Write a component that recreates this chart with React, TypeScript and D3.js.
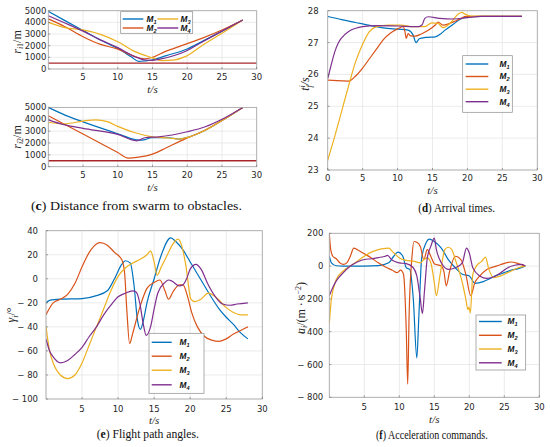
import React from "react";
import * as d3 from "d3";

type P = [number, number];

const SERIES = ["1", "2", "3", "4"];
const COLORS = ["#0072BD", "#D95319", "#EDB120", "#7E2F8E"];
const OBSTACLE_COLOR = "#A8262A";
const safeDistance = [[0, 500], [30, 500]] as P[];

// (c) distance to obstacle 1
const r1M1: P[] = [[0, 4950], [2.4, 4150], [5, 3300], [7.5, 2480], [10, 1760], [12, 1020], [13, 650], [14, 700], [14.9, 770], [17, 1150], [20, 1720], [22.1, 2350], [25, 3250], [28, 4200]];
const r1M2: P[] = [[0, 4300], [2.4, 3630], [5, 2770], [7.5, 2110], [10, 1710], [12.5, 1060], [13.9, 860], [15, 1000], [16.8, 1490], [19.7, 2110], [22.1, 2630], [25, 3340], [28, 4200]];
const r1M3: P[] = [[0, 4000], [2.4, 3550], [5, 3350], [7.5, 2970], [10, 2340], [12.5, 1490], [14.9, 980], [16.3, 720], [18.2, 780], [19.7, 1060], [22.1, 2000], [25, 3060], [28, 4200]];
const r1M4: P[] = [[0, 4570], [2.4, 3950], [5, 3250], [7.5, 2500], [10, 1830], [12.5, 1050], [14, 770], [15, 740], [15.9, 830], [19.7, 1500], [22.1, 2300], [25, 3250], [28, 4200]];

// (c) distance to obstacle 2
const r2M1: P[] = [[0, 5000], [2.4, 4350], [5, 3780], [10, 2780], [12.5, 2290], [13.5, 2240], [14.9, 2440], [17.3, 2440], [18.8, 2330], [20.2, 2500], [22.5, 3050], [25, 3900], [28, 5000]];
const r2M2: P[] = [[0, 4300], [5, 2750], [10, 1190], [11.5, 720], [13, 800], [15, 1060], [17, 1600], [19.7, 2350], [22.5, 3050], [25, 3900], [28, 5000]];
const r2M3: P[] = [[0, 3750], [2.4, 3620], [5, 3850], [6.8, 3950], [8.5, 3800], [10, 3400], [12.5, 2860], [15, 2520], [17.3, 2420], [18.8, 2330], [20.2, 2500], [22.5, 3050], [25, 3900], [28, 5000]];
const r2M4: P[] = [[0, 3950], [2.4, 3520], [5, 3230], [10, 2720], [12.7, 2180], [13.9, 2440], [15.9, 2520], [20, 2950], [22.6, 3370], [25, 4000], [28, 5000]];

// (d) arrival times
const tfM1: P[] = [[0, 27.82], [2, 27.72], [4, 27.63], [6, 27.54], [8, 27.46], [10, 27.42], [11.5, 27.39], [12.2, 27.25], [12.65, 27.0], [13.1, 27.12], [14, 27.16], [15.4, 27.18], [16.2, 27.28], [16.8, 27.39], [18, 27.58], [18.7, 27.7], [20.1, 27.81], [22, 27.82], [27.8, 27.82]];
const tfM2: P[] = [[0, 25.82], [2, 25.8], [3, 25.79], [4, 25.95], [5, 26.2], [6, 26.5], [7, 26.8], [8, 27.1], [9, 27.3], [10, 27.43], [10.8, 27.5], [11.05, 27.35], [11.25, 27.13], [11.5, 27.28], [11.8, 27.22], [12.5, 27.2], [13.4, 27.27], [14.5, 27.4], [15.4, 27.55], [15.8, 27.64], [16.5, 27.55], [17.2, 27.58], [18, 27.65], [19, 27.75], [19.8, 27.82], [27.8, 27.82]];
const tfM3: P[] = [[0, 23.3], [1, 24.05], [2, 24.85], [3, 25.65], [4, 26.4], [5, 26.95], [6, 27.35], [7, 27.5], [8.7, 27.55], [10.5, 27.55], [12, 27.5], [13.9, 27.5], [14.9, 27.62], [15.8, 27.6], [16.5, 27.47], [17.5, 27.6], [18.7, 27.9], [19.2, 27.95], [19.6, 27.9], [20.5, 27.83], [27.8, 27.82]];
const tfM4: P[] = [[0, 25.87], [0.5, 26.3], [1, 26.7], [1.5, 26.98], [2, 27.15], [3, 27.35], [4, 27.45], [5, 27.5], [7, 27.53], [10, 27.52], [13, 27.5], [13.5, 27.55], [13.9, 27.76], [14.4, 27.81], [16, 27.76], [18, 27.74], [20, 27.78], [22, 27.82], [27.8, 27.82]];

// (e) flight path angles
const gM1: P[] = [[0, -20], [0.5, -18], [2, -17], [5, -16.5], [7, -14], [8.5, -10], [9.5, 0], [10.5, 12], [11, 15], [11.7, 13], [12.2, -5], [12.7, -35], [13.1, -42], [13.5, -35], [14, -20], [15, 0], [16, 20], [17.3, 34], [18, 31], [19, 24], [20, 14], [21, 4], [22, -6], [23, -16], [24, -25], [25, -32], [26, -38], [27, -45], [28, -50]];
const gM2: P[] = [[0, -30], [1, -20], [2, -17], [3, -13], [4, -4], [5, 10], [6, 22], [7, 29], [7.5, 30], [8.5, 28], [9.5, 22], [10.5, 16], [10.9, 5], [11.2, -25], [11.6, -54], [12, -46], [13, -24], [14, -8], [15, -3], [15.8, -1], [16.5, -10], [17, -17], [17.6, -11], [18.5, -5], [19, -5], [19.6, -14], [20.2, -28], [21, -40], [22, -48], [23, -51], [24, -52], [25, -50], [26, -46], [27, -43], [28, -40]];
const gM3: P[] = [[0, -40], [0.5, -60], [1, -70], [2, -80], [3, -83], [4, -80], [5, -70], [6, -55], [7, -40], [8, -25], [9, -10], [10, 2], [11, 9], [12, 13], [13, 16], [14, 20], [14.5, 23], [15, 14], [15.4, 3], [16, 10], [17, 22], [17.5, 28], [18.3, 33], [18.8, 28], [19.4, 11], [20.1, -17], [20.6, -19], [21.5, -17], [22.5, -12], [23.5, -15], [25, -24], [26, -28], [27, -30], [28, -30]];
const gM4: P[] = [[0, -50], [0.5, -60], [1, -65], [2, -70], [3, -68], [4, -63], [5, -57], [6, -48], [7, -40], [8, -30], [9, -22], [10, -15], [11, -12], [12, -10], [12.5, -11], [13, -20], [13.5, -38], [13.9, -47], [14.5, -40], [15, -25], [15.5, -12], [16.5, -3], [17, -1], [17.5, -2], [18.5, -6], [19, -5], [19.5, 0], [20, 8], [20.8, 12], [21.5, 8], [22.5, -5], [23.5, -15], [24.5, -21], [25.5, -22], [26.5, -21], [28, -20]];

// (f) acceleration commands
const aM1: P[] = [[0, 60], [0.3, 20], [1, 2], [2, 0], [5, 0], [7, 3], [8.5, 20], [9.2, 60], [9.8, 85], [10.5, 60], [11, -10], [11.5, -20], [12, -200], [12.5, -560], [12.8, -300], [13.2, 50], [13.8, 140], [14.3, 165], [15, 150], [16, 110], [17, 40], [18, -10], [19, -50], [20, -60], [20.8, -105], [22, -95], [23, -75], [24, -55], [25, -40], [26, -25], [27, -15], [28, 0]];
const aM2: P[] = [[0, 200], [0.2, 100], [0.5, 60], [1, 45], [1.5, 20], [2, 10], [2.5, 20], [3, 60], [3.5, 110], [4, 100], [5, 75], [6, 50], [7, 20], [8, -5], [9, -25], [9.7, -40], [10.2, -25], [10.6, -50], [11, -400], [11.2, -720], [11.4, -300], [11.8, 50], [12.1, 150], [12.5, 145], [13, 120], [13.5, 40], [14, 100], [14.5, 60], [15, 15], [16, 0], [16.4, -40], [16.7, -120], [17.2, -30], [18, 60], [18.8, 40], [19.5, -50], [20.2, -180], [20.8, -100], [21.5, -60], [22.5, -20], [23.5, -5], [24.5, 10], [26, 25], [27, 15], [28, 0]];
const aM3: P[] = [[0, -350], [0.3, -200], [0.7, -120], [1, -80], [2, -30], [3, 0], [4, 30], [5, 60], [6, 85], [7, 100], [8, 108], [8.5, 110], [9, 90], [10, 50], [11, 35], [12, 30], [13, 20], [13.5, 40], [14, 50], [14.5, 20], [15, -100], [15.3, -180], [15.8, -60], [16.5, 100], [17, 115], [17.5, 100], [18, 40], [19, -100], [19.5, -200], [19.8, -265], [19.95, -250], [20.15, -285], [20.5, -50], [21, 0], [21.8, 30], [22.3, 55], [22.8, -20], [23.5, -70], [24.5, -60], [25.5, -40], [27, -10], [28, 0]];
const aM4: P[] = [[0, -180], [0.5, -130], [1, -90], [2, -40], [3, 0], [4, 25], [5, 40], [6, 45], [7, 52], [8, 60], [8.3, 65], [9, 35], [10, 20], [11, 15], [12, -10], [12.5, -60], [13, -200], [13.3, -290], [13.6, -150], [14, 50], [14.5, 120], [15, 170], [15.3, 100], [16, 20], [17, -20], [18, -10], [19, 20], [19.6, 110], [20, 80], [20.5, -10], [21.5, -60], [22.5, -75], [23.5, -65], [24.5, -40], [25.5, -10], [26.5, 5], [27.5, 10], [28, 0]];

// ticks
const xTicksNoZero = [5, 10, 15, 20, 25, 30];
const xTicksFull = [0, 5, 10, 15, 20, 25, 30];
const yTicksR = [0, 1000, 2000, 3000, 4000, 5000];
const yTicksTf = [23, 24, 25, 26, 27, 28];
const yTicksG = [-100, -80, -60, -40, -20, 0, 20, 40];
const yTicksA = [-800, -600, -400, -200, 0, 200];

const TICK_FONT = "'DejaVu Sans', sans-serif";
const MATH_FONT = "'Liberation Serif', 'DejaVu Serif', serif";
const CAP_FONT = "'Liberation Serif', 'DejaVu Serif', serif";

function fmt(v: number) {
  return v < 0 ? "\u2212 " + Math.abs(v) : String(v);
}

type Box = { l: number; r: number; t: number; b: number };
type LegendItem = { idx: number; x0: number; x1: number; tx: number; y: number };
type Legend = { x: number; y: number; w: number; h: number; items: LegendItem[] };

function Panel(props: {
  id: string;
  box: Box;
  xDomain: [number, number];
  yDomain: [number, number];
  xTickLabels: number[];
  yTicks: number[];
  series: P[][];
  extra?: { data: P[]; color: string }[];
  tickY: number;
  yGap: number;
  legend: Legend;
}) {
  const { id, box, xDomain, yDomain, xTickLabels, yTicks, series, extra, tickY, yGap, legend } = props;
  const x = d3.scaleLinear().domain(xDomain).range([box.l, box.r]);
  const y = d3.scaleLinear().domain(yDomain).range([box.b, box.t]);
  const line = d3
    .line<P>()
    .x((d) => x(d[0]))
    .y((d) => y(d[1]))
    .curve(d3.curveMonotoneX);
  const gridX = x.ticks(6);
  return (
    <g>
      <defs>
        <clipPath id={id}>
          <rect x={box.l} y={box.t - 1} width={box.r - box.l} height={box.b - box.t + 2} />
        </clipPath>
      </defs>
      <rect x={box.l} y={box.t} width={box.r - box.l} height={box.b - box.t} fill="#fff" />
      {gridX.map((v) => (
        <line key={"gx" + v} x1={x(v)} x2={x(v)} y1={box.t} y2={box.b} stroke="#e3e3e3" strokeWidth={0.7} />
      ))}
      {yTicks.map((v) => (
        <line key={"gy" + v} x1={box.l} x2={box.r} y1={y(v)} y2={y(v)} stroke="#e3e3e3" strokeWidth={0.7} />
      ))}
      <g clipPath={`url(#${id})`}>
        {extra &&
          extra.map((e, i) => (
            <path key={"e" + i} d={line.curve(d3.curveLinear)(e.data) || ""} fill="none" stroke={e.color} strokeWidth={1.3} />
          ))}
        {series.map((s, i) => (
          <path key={"s" + i} d={line.curve(d3.curveMonotoneX)(s) || ""} fill="none" stroke={COLORS[i]} strokeWidth={1.2} />
        ))}
      </g>
      <rect x={box.l} y={box.t} width={box.r - box.l} height={box.b - box.t} fill="none" stroke="#a6a6a6" strokeWidth={0.8} />
      {xTickLabels.map((v) => (
        <g key={"xt" + v}>
          <line x1={x(v)} x2={x(v)} y1={box.b} y2={box.b - 2} stroke="#666" strokeWidth={0.6} />
          <text x={x(v)} y={tickY} textAnchor="middle" fontFamily={TICK_FONT} fontSize={8.5} fill="#262626">
            {fmt(v)}
          </text>
        </g>
      ))}
      {yTicks.map((v) => (
        <g key={"yt" + v}>
          <line x1={box.l} x2={box.l + 2} y1={y(v)} y2={y(v)} stroke="#666" strokeWidth={0.6} />
          <text x={box.l - yGap} y={y(v) + 3} textAnchor="end" fontFamily={TICK_FONT} fontSize={8.5} fill="#262626">
            {fmt(v)}
          </text>
        </g>
      ))}
      {legend.items.length > 0 && (
        <rect x={legend.x} y={legend.y} width={legend.w} height={legend.h} fill="#fff" stroke="#8a8a8a" strokeWidth={0.7} />
      )}
      {legend.items.map((it) => (
        <g key={"lg" + it.idx}>
          <line x1={it.x0} x2={it.x1} y1={it.y} y2={it.y} stroke={COLORS[it.idx]} strokeWidth={1.4} />
          <text x={it.tx} y={it.y + 2.8} fontFamily="'Liberation Sans', Arial, sans-serif" fontWeight="bold" fontStyle="italic" fontSize={8.3} fill="#111">
            M
            <tspan fontSize={5.6} dy={2}>
              {SERIES[it.idx]}
            </tspan>
          </text>
        </g>
      ))}
    </g>
  );
}

function XLabel({ cx, y }: { cx: number; y: number }) {
  return (
    <text x={cx} y={y} textAnchor="middle" fontFamily={MATH_FONT} fontStyle="italic" fontSize={11} fill="#262626">
      t/s
    </text>
  );
}

function Caption({ x, y, w, letter, text }: { x: number; y: number; w: number; letter: string; text: string }) {
  return (
    <text x={x} y={y} fontFamily={CAP_FONT} fontSize={12} fill="#111" textLength={w} lengthAdjust="spacingAndGlyphs">
      (<tspan fontWeight="bold">{letter}</tspan>) {text}
    </text>
  );
}

export default function App() {
  const boxC1: Box = { l: 48.3, r: 256.7, t: 10.7, b: 69 };
  const boxC2: Box = { l: 48.3, r: 256.7, t: 107.4, b: 166.7 };
  const boxD: Box = { l: 327.7, r: 537.3, t: 10.7, b: 170 };
  const boxE: Box = { l: 46, r: 262.3, t: 230.7, b: 399 };
  const boxF: Box = { l: 329.3, r: 539.3, t: 233.3, b: 397.3 };

  const legC: Legend = {
    x: 120.7, y: 11.7, w: 72, h: 21.6,
    items: [
      { idx: 0, x0: 122.7, x1: 143.3, tx: 146.5, y: 19 },
      { idx: 2, x0: 157.3, x1: 178.3, tx: 180.5, y: 19 },
      { idx: 1, x0: 122.7, x1: 143.3, tx: 146.5, y: 28 },
      { idx: 3, x0: 157.3, x1: 178.3, tx: 180.5, y: 28 },
    ],
  };
  const legC2: Legend = { x: 0, y: 0, w: 0, h: 0, items: [] };
  const rowsD = [64, 76.5, 89.2, 101.7];
  const legD: Legend = {
    x: 462.7, y: 55.7, w: 49.6, h: 56.6,
    items: rowsD.map((r, i) => ({ idx: i, x0: 465.7, x1: 488.3, tx: 499.5, y: r })),
  };
  const rowsE = [342.3, 356.2, 370.2, 384.8];
  const legE: Legend = {
    x: 149, y: 333.3, w: 55, h: 60,
    items: rowsE.map((r, i) => ({ idx: i, x0: 151.7, x1: 171.7, tx: 179.5, y: r })),
  };
  const rowsF = [321.5, 335.3, 349, 362.8];
  const legF: Legend = {
    x: 476, y: 315, w: 49.7, h: 55,
    items: rowsF.map((r, i) => ({ idx: i, x0: 479, x1: 501.7, tx: 507.5, y: r })),
  };

  return (
    <svg width={550} height={447} style={{ position: "absolute", left: 0, top: 0, background: "#fff" }}>
      <rect width={550} height={447} fill="#fff" />
      <Panel id="c1" box={boxC1} xDomain={[0, 30]} yDomain={[0, 5000]} xTickLabels={xTicksNoZero} yTicks={yTicksR}
        series={[r1M1, r1M2, r1M3, r1M4]} extra={[{ data: safeDistance, color: OBSTACLE_COLOR }]} tickY={80.3} yGap={2} legend={legC} />
      <Panel id="c2" box={boxC2} xDomain={[0, 30]} yDomain={[0, 5000]} xTickLabels={xTicksNoZero} yTicks={yTicksR}
        series={[r2M1, r2M2, r2M3, r2M4]} extra={[{ data: safeDistance, color: OBSTACLE_COLOR }]} tickY={178} yGap={2} legend={legC2} />
      <Panel id="d" box={boxD} xDomain={[0, 30]} yDomain={[23, 28]} xTickLabels={xTicksFull} yTicks={yTicksTf}
        series={[tfM1, tfM2, tfM3, tfM4]} tickY={181.3} yGap={9} legend={legD} />
      <Panel id="e" box={boxE} xDomain={[0, 30]} yDomain={[-100, 40]} xTickLabels={xTicksNoZero} yTicks={yTicksG}
        series={[gM1, gM2, gM3, gM4]} tickY={411.6} yGap={8} legend={legE} />
      <Panel id="f" box={boxF} xDomain={[0, 30]} yDomain={[-800, 200]} xTickLabels={xTicksNoZero} yTicks={yTicksA}
        series={[aM1, aM2, aM3, aM4]} tickY={410.2} yGap={6} legend={legF} />

      <XLabel cx={152.5} y={92.8} />
      <XLabel cx={152.5} y={190.5} />
      <XLabel cx={432.5} y={194.2} />
      <XLabel cx={154.2} y={423.8} />
      <XLabel cx={434.3} y={422.5} />

      {/* y labels */}
      <text transform="translate(20.5,42) rotate(-90)" textAnchor="middle" fontFamily={MATH_FONT} fontSize={12} fill="#262626">
        <tspan fontStyle="italic">r</tspan>
        <tspan fontSize={8} dy={2.5} fontStyle="italic">i</tspan>
        <tspan fontSize={8}>1</tspan>
        <tspan dy={-2.5}>/m</tspan>
      </text>
      <text transform="translate(20.5,137) rotate(-90)" textAnchor="middle" fontFamily={MATH_FONT} fontSize={12} fill="#262626">
        <tspan fontStyle="italic">r</tspan>
        <tspan fontSize={8} dy={2.5} fontStyle="italic">i</tspan>
        <tspan fontSize={8}>2</tspan>
        <tspan dy={-2.5}>/m</tspan>
      </text>
      <text transform="translate(308.5,84) rotate(-90)" textAnchor="middle" fontFamily={MATH_FONT} fontStyle="italic" fontSize={12} fill="#262626">
        <tspan>t</tspan>
        <tspan fontSize={8} dy={-4}>i</tspan>
        <tspan fontSize={8} dx={-2.3} dy={7}>f</tspan>
        <tspan dy={-3}>/s</tspan>
      </text>
      <text transform="translate(15,315) rotate(-90)" textAnchor="middle" fontFamily={MATH_FONT} fontSize={12} fill="#262626">
        <tspan fontStyle="italic">γ</tspan>
        <tspan fontSize={8} dy={2.5} fontStyle="italic">i</tspan>
        <tspan dy={-2.5}>/°</tspan>
      </text>
      <text transform="translate(304.5,308) rotate(-90)" textAnchor="middle" fontFamily={MATH_FONT} fontSize={12} fill="#262626">
        <tspan fontStyle="italic">a</tspan>
        <tspan fontSize={8} dy={2.5} fontStyle="italic">i</tspan>
        <tspan dy={-2.5}>/(m · s</tspan>
        <tspan fontSize={8} dy={-4}>−2</tspan>
        <tspan dy={4}>)</tspan>
      </text>

      <Caption x={31} y={209.8} w={211} letter="c" text="Distance from swarm to obstacles." />
      <Caption x={418.3} y={212.3} w={76.7} letter="d" text="Arrival times." />
      <Caption x={96.7} y={438} w={102.3} letter="e" text="Flight path angles." />
      <Caption x={376} y={438.7} w={111.7} letter="f" text="Acceleration commands." />
    </svg>
  );
}
